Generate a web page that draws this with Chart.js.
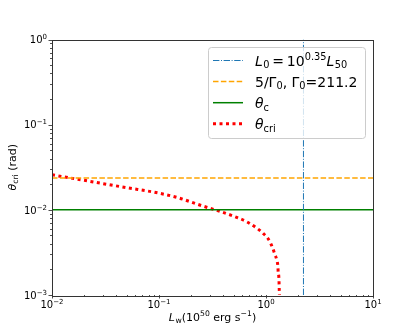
<!DOCTYPE html>
<html>
<head>
<meta charset="utf-8">
<script src="https://cdn.jsdelivr.net/npm/chart.js@4.4.0/dist/chart.umd.min.js"></script>
<style>
  body { margin: 0; background: #fff; }
  #wrap { width: 415px; height: 332px; }
</style>
</head>
<body>
<div id="wrap"><canvas id="chart" width="415" height="332"></canvas></div>
<script>
// Data
const curveL = [0.01, 0.015, 0.02, 0.03, 0.05, 0.1, 0.15, 0.25, 0.37, 0.54, 0.68, 0.85, 0.94, 1.03, 1.1, 1.16, 1.21, 1.26, 1.29, 1.30, 1.32, 1.331, 1.335];
const curveTheta = [0.0258, 0.0236, 0.0222, 0.0203, 0.0182, 0.0157, 0.0139, 0.0112, 0.0096, 0.0081, 0.0071, 0.0059, 0.0053, 0.0047, 0.0041, 0.0035, 0.0030, 0.0026, 0.0022, 0.00186, 0.00158, 0.00113, 0.001];
const L0 = 2.239;          // 10^0.35
const thetaGamma = 0.0237; // 5/Gamma0, Gamma0 = 211.2
const thetaC = 0.01;
const xRange = [0.01, 10];
const yRange = [0.001, 1];
const xTicks = [0.01, 0.1, 1, 10];
const xTickExp = ['\u22122', '\u22121', '0', '1'];
const yTicks = [0.001, 0.01, 0.1, 1];
const yTickExp = ['\u22123', '\u22122', '\u22121', '0'];

const FONT = '"DejaVu Sans", sans-serif';

// draw a run of text pieces: {t, it, sub, sup}
function richWidth(ctx, runs, size) {
    let w = 0;
    runs.forEach(r => {
        const s = (r.sub || r.sup) ? size * 0.7 : size;
        ctx.font = (r.it ? 'italic ' : '') + s + 'px ' + FONT;
        w += ctx.measureText(r.t).width + (r.gap || 0);
    });
    return w;
}
function drawRich(ctx, x, y, runs, size, align) {
    let w = richWidth(ctx, runs, size);
    let cx = align === 'right' ? x - w : align === 'center' ? x - w / 2 : x;
    ctx.textBaseline = 'alphabetic';
    ctx.textAlign = 'left';
    runs.forEach(r => {
        const s = (r.sub || r.sup) ? size * 0.7 : size;
        ctx.font = (r.it ? 'italic ' : '') + s + 'px ' + FONT;
        let dy = r.sub ? size * 0.2 : r.sup ? -size * 0.4 : 0;
        ctx.fillText(r.t, cx, y + dy);
        cx += ctx.measureText(r.t).width + (r.gap || 0);
    });
}

const decorPlugin = {
    id: 'decor',
    afterDraw(chart) {
        const ctx = chart.ctx;
        const a = chart.chartArea;
        const xs = chart.scales.x, ys = chart.scales.y;
        ctx.save();
        ctx.fillStyle = '#000';
        ctx.strokeStyle = '#222';
        ctx.lineWidth = 0.8;

        // ticks (major + minor), outward on bottom and left
        ctx.beginPath();
        for (let e = -2; e < 1; e++) {
            for (let m = 2; m <= 9; m++) {
                const px = Math.round(xs.getPixelForValue(m * Math.pow(10, e))) + 0.5;
                ctx.moveTo(px, a.bottom); ctx.lineTo(px, a.bottom + 2);
            }
        }
        for (let e = -3; e < 0; e++) {
            for (let m = 2; m <= 9; m++) {
                const py = Math.round(ys.getPixelForValue(m * Math.pow(10, e))) + 0.5;
                ctx.moveTo(a.left, py); ctx.lineTo(a.left - 2, py);
            }
        }
        xTicks.forEach(v => {
            const px = Math.round(xs.getPixelForValue(v)) + 0.5;
            ctx.moveTo(px, a.bottom); ctx.lineTo(px, a.bottom + 3.5);
        });
        yTicks.forEach(v => {
            const py = Math.round(ys.getPixelForValue(v)) + 0.5;
            ctx.moveTo(a.left, py); ctx.lineTo(a.left - 3.5, py);
        });
        ctx.stroke();

        // frame
        ctx.strokeStyle = '#333';
        ctx.lineWidth = 1;
        ctx.strokeRect(Math.round(a.left) + 0.5, Math.round(a.top) + 0.5,
            Math.round(a.right - a.left), Math.round(a.bottom - a.top));

        // tick labels
        xTicks.forEach((v, i) => {
            drawRich(ctx, xs.getPixelForValue(v), a.bottom + 12.5,
                [{t: '10'}, {t: xTickExp[i], sup: true}], 10, 'center');
        });
        yTicks.forEach((v, i) => {
            drawRich(ctx, a.left - 5, ys.getPixelForValue(v) + 3.8,
                [{t: '10'}, {t: yTickExp[i], sup: true}], 10, 'right');
        });

        // axis labels
        drawRich(ctx, (a.left + a.right) / 2, a.bottom + 25.5,
            [{t: 'L', it: true, gap: 0.5}, {t: 'w', sub: true}, {t: '(10'}, {t: '50', sup: true},
             {t: ' erg s'}, {t: '\u22121', sup: true}, {t: ')'}], 11, 'center');
        ctx.save();
        ctx.translate(16, (a.top + a.bottom) / 2);
        ctx.rotate(-Math.PI / 2);
        drawRich(ctx, 0, 0,
            [{t: '\u03b8', it: true}, {t: 'cri', sub: true}, {t: ' (rad)'}], 11, 'center');
        ctx.restore();

        // legend
        const lx = a.right - 165, ly = a.top + 7.5, lw = 157, lh = 91;
        ctx.beginPath();
        ctx.roundRect(lx + 0.5, ly + 0.5, lw, lh, 3);
        ctx.fillStyle = 'rgba(255,255,255,0.8)';
        ctx.fill();
        ctx.strokeStyle = '#cccccc';
        ctx.lineWidth = 1;
        ctx.stroke();

        const rows = [
            {color: '#1f77b4', w: 1, dash: [6.4, 1.6, 1, 1.6],
             runs: [{t: 'L', it: true, gap: 0.5}, {t: '0', sub: true}, {t: '\u2009=\u200910'}, {t: '0.35', sup: true},
                    {t: 'L', it: true, gap: 0.5}, {t: '50', sub: true}]},
            {color: 'orange', w: 1.5, dash: [5.5, 2.4],
             runs: [{t: '5/\u0393'}, {t: '0', sub: true}, {t: ', \u0393'}, {t: '0', sub: true}, {t: '=211.2'}]},
            {color: 'green', w: 1.5, dash: [],
             runs: [{t: '\u03b8', it: true}, {t: 'c', sub: true}]},
            {color: 'red', w: 3, dash: [3, 3.5],
             runs: [{t: '\u03b8', it: true}, {t: 'cri', sub: true}]}
        ];
        rows.forEach((r, i) => {
            const cy = ly + 13.5 + i * 21.1;
            ctx.beginPath();
            ctx.setLineDash(r.dash);
            ctx.strokeStyle = r.color;
            ctx.lineWidth = r.w;
            ctx.moveTo(lx + 5, cy); ctx.lineTo(lx + 35, cy);
            ctx.stroke();
            ctx.setLineDash([]);
            ctx.fillStyle = '#000';
            drawRich(ctx, lx + 47, cy + 5, r.runs, 14, 'left');
        });
        ctx.restore();
    }
};

const lineData = (xs, ys) => xs.map((x, i) => ({x: x, y: ys[i]}));

new Chart(document.getElementById('chart'), {
    type: 'scatter',
    data: {
        datasets: [
            {
                label: 'L0',
                data: lineData([L0, L0], yRange),
                showLine: true, pointRadius: 0,
                borderColor: '#1f77b4', borderWidth: 1,
                borderDash: [6.4, 1.6, 1, 1.6]
            },
            {
                label: '5/Gamma0',
                data: lineData(xRange, [thetaGamma, thetaGamma]),
                showLine: true, pointRadius: 0,
                borderColor: 'orange', borderWidth: 1.5,
                borderDash: [5.5, 2.4]
            },
            {
                label: 'theta_c',
                data: lineData(xRange, [thetaC, thetaC]),
                showLine: true, pointRadius: 0,
                borderColor: 'green', borderWidth: 1.5
            },
            {
                label: 'theta_cri',
                data: lineData(curveL, curveTheta),
                showLine: true, pointRadius: 0,
                borderColor: 'red', borderWidth: 3,
                borderDash: [3, 3.5], cubicInterpolationMode: 'monotone'
            }
        ]
    },
    options: {
        responsive: false,
        animation: false,
        layout: { padding: { left: 52, top: 39.5, right: 42, bottom: 37 } },
        plugins: { legend: { display: false }, tooltip: { enabled: false } },
        scales: {
            x: { type: 'logarithmic', min: xRange[0], max: xRange[1], display: false },
            y: { type: 'logarithmic', min: yRange[0], max: yRange[1], display: false }
        }
    },
    plugins: [decorPlugin]
});
</script>
</body>
</html>
